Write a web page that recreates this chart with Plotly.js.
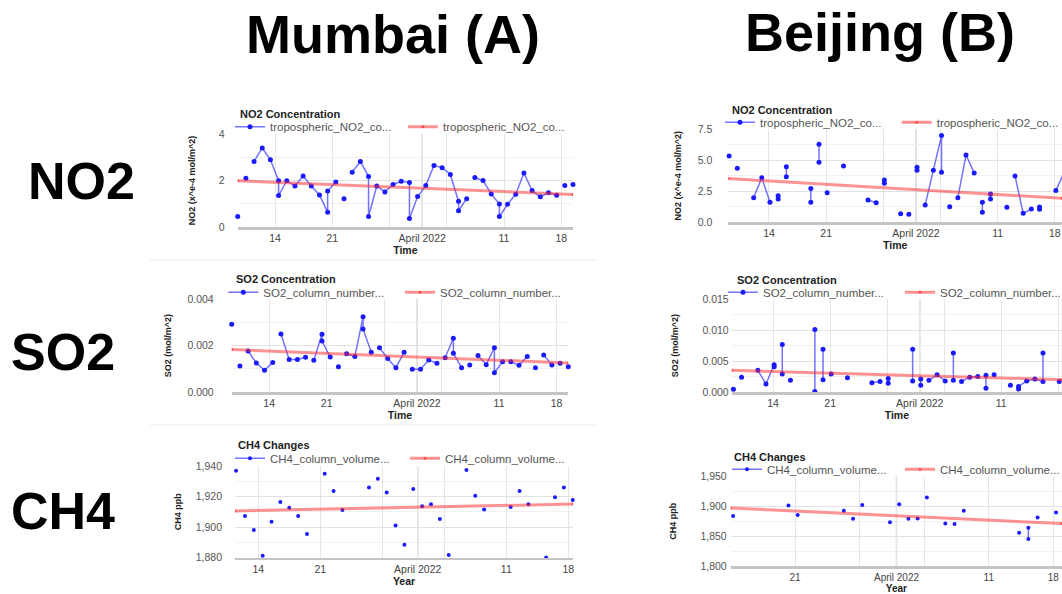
<!DOCTYPE html>
<html><head><meta charset="utf-8">
<script src="https://cdn.plot.ly/plotly-3.0.1.min.js"></script>
<style>html,body{margin:0;padding:0;background:#fff;overflow:hidden}#chart{width:1062px;height:594px}</style>
</head><body><div id="chart"></div>
<script>
// ---------------- DATA ----------------
// Mumbai NO2 (x 1e-4 mol/m^2), null = gap in line
const mumNO2Days = ['03-09','03-09','03-10','03-10','03-11','03-12','03-13','03-14','03-14','03-15','03-16','03-17','03-18','03-19','03-20','03-20','03-21','03-21','03-22','03-22','03-23','03-24','03-25','03-25','03-26','03-27','03-28','03-29','03-30','03-30','03-31','04-01','04-02','04-03','04-04','04-05','04-05','04-06','04-06','04-07','04-08','04-09','04-10','04-10','04-11','04-12','04-13','04-14','04-15','04-16','04-17','04-17','04-18','04-18','04-19'];
const mumNO2Vals = [0.45,null,2.10,null,2.82,3.40,2.89,1.99,1.35,1.99,1.76,2.19,1.76,1.38,0.63,1.55,1.94,null,1.21,null,2.36,2.82,2.17,0.45,1.76,1.51,1.83,1.97,1.91,0.37,1.31,1.78,2.65,2.55,2.26,1.11,0.70,1.22,null,2.13,2.00,1.42,0.99,0.45,0.98,1.41,2.32,1.57,1.30,1.47,1.37,null,1.78,null,1.83];
const mumNO2Trend = [1.99, 1.40];

// Mumbai SO2 (mol/m^2)
const mumSO2Days = ['03-09','03-09','03-10','03-10','03-11','03-12','03-13','03-14','03-14','03-15','03-16','03-17','03-18','03-18','03-19','03-20','03-20','03-21','03-21','03-22','03-22','03-23','03-24','03-25','03-25','03-26','03-26','03-27','03-28','03-29','03-30','03-30','03-31','04-01','04-02','04-03','04-03','04-04','04-05','04-05','04-06','04-06','04-07','04-07','04-08','04-09','04-10','04-10','04-11','04-11','04-12','04-13','04-14','04-14','04-15','04-15','04-16','04-17','04-17','04-18','04-18','04-19'];
const mumSO2Vals = [0.00292,null,0.00112,null,0.00177,0.00125,0.00094,0.00127,null,0.00250,0.00140,0.00140,0.00150,null,0.00137,0.00249,0.00220,0.00151,null,0.00109,null,0.00165,0.00153,0.00325,0.00272,0.00171,null,0.00191,0.00145,0.00105,0.00171,null,0.00098,0.00098,0.00138,0.00124,null,0.00148,0.00232,0.00167,0.00105,null,0.00117,null,0.00158,0.00118,0.00191,0.00083,0.00131,null,0.00131,0.00115,0.00153,null,0.00105,null,0.00160,0.00117,null,0.00124,null,0.00109];
const mumSO2Trend = [0.00183, 0.00125];

// Mumbai CH4 (ppb), separate points
const mumCH4Days = ['03-11','03-12','03-13','03-14','03-15','03-16','03-17','03-18','03-19','03-21','03-22','03-23','03-26','03-27','03-28','03-29','03-30','03-31','04-01','04-02','04-03','04-04','04-06','04-07','04-08','04-11','04-12','04-13','04-15','04-16','04-17','04-18'];
const mumCH4Vals = [1936.9,1907.3,1898.1,1881.3,1903.6,1916.4,1912.7,1907.3,1895.5,1935.0,1923.6,1911.2,1926.0,1931.7,1922.6,1901.0,1888.5,1925.0,1913.6,1914.9,1905.3,1881.8,1937.4,1920.6,1911.6,1913.2,1923.6,1914.9,1880.2,1919.5,1926.0,1917.8];
const mumCH4Trend = [1910.6, 1915.1];

// Beijing NO2 (x 1e-4 mol/m^2)
const bjNO2Days = ['03-09','03-09','03-10','03-10','03-12','03-13','03-14','03-14','03-15','03-15','03-15','03-16','03-16','03-16','03-19','03-19','03-19','03-20','03-20','03-20','03-21','03-21','03-23','03-23','03-26','03-27','03-27','03-28','03-28','03-28','03-30','03-30','03-31','03-31','04-01','04-01','04-01','04-02','04-03','04-04','04-04','04-04','04-05','04-05','04-06','04-07','04-08','04-08','04-09','04-09','04-09','04-10','04-10','04-10','04-12','04-12','04-13','04-14','04-15','04-15','04-16','04-16','04-16','04-18','04-19'];
const bjNO2Vals = [5.34,null,4.34,null,1.97,3.59,1.59,null,1.86,2.13,null,4.48,3.67,null,2.72,1.59,null,6.29,4.83,null,2.37,null,4.53,null,1.78,1.56,null,3.40,3.13,null,0.67,null,0.62,null,4.42,4.18,null,1.38,4.18,6.99,4.02,null,1.24,null,1.97,5.42,3.97,null,1.59,0.78,null,2.27,1.86,null,1.19,null,3.72,0.70,1.05,null,1.21,1.03,null,2.54,4.00];
const bjNO2Trend = [3.51, 1.92];

// Beijing SO2 (mol/m^2)
const bjSO2Days = ['03-09','03-09','03-10','03-10','03-12','03-13','03-14','03-14','03-14','03-15','03-15','03-15','03-16','03-16','03-19','03-19','03-19','03-20','03-20','03-20','03-21','03-21','03-23','03-23','03-26','03-27','03-27','03-28','03-28','03-28','03-31','03-31','03-31','04-01','04-01','04-01','04-02','04-03','04-04','04-04','04-05','04-05','04-05','04-06','04-07','04-08','04-08','04-09','04-09','04-09','04-10','04-10','04-12','04-12','04-13','04-13','04-14','04-15','04-16','04-16','04-16','04-18'];
const bjSO2Vals = [0.00043,null,0.0024,null,0.0035,0.0013,0.0044,0.0041,null,0.0077,0.0029,null,0.0019,null,0.0101,0.0001,null,0.0069,0.0020,null,0.0029,null,0.0023,null,0.0015,0.0017,null,0.0022,0.0014,null,0.0069,0.0018,null,0.0021,0.0011,null,0.0019,0.0028,0.0018,null,0.0063,0.0019,null,0.0017,0.0024,0.0025,null,0.0027,0.0006,null,0.0028,null,0.0011,null,0.0005,0.0009,0.0018,0.0021,0.0017,0.0063,null,0.0017];
const bjSO2Trend = [0.0035, 0.0020];

// Beijing CH4 (ppb)
const bjCH4Days = ['03-14','03-14','03-20','03-20','03-21','03-21','03-26','03-26','03-27','03-27','03-28','03-28','03-31','03-31','04-01','04-01','04-02','04-02','04-03','04-03','04-04','04-04','04-06','04-06','04-07','04-07','04-08','04-08','04-14','04-14','04-15','04-15','04-15','04-16','04-16','04-18'];
const bjCH4Vals = [1884.1,null,1901.8,null,1885.7,null,1892.7,null,1879.3,null,1902.3,null,1873.4,null,1903.9,null,1879.3,null,1879.8,null,1915.2,null,1871.2,null,1870.7,null,1892.7,null,1855.7,null,1864.3,1845.5,null,1881.4,null,1890.0];
const bjCH4Trend = [1897.5, 1871.2];

// ticks and labels
const xTickVals = ['2022-03-14','2022-03-21','2022-03-28','2022-04-01','2022-04-04','2022-04-11','2022-04-18'];
const xTickText = ['14','21','','April 2022','','11','18'];
const mumNO2YTicks = [0,2,4], mumNO2YText = ['0','2','4'];
const mumSO2YTicks = [0,0.002,0.004], mumSO2YText = ['0.000','0.002','0.004'];
const mumCH4YTicks = [1880,1900,1920,1940], mumCH4YText = ['1,880','1,900','1,920','1,940'];
const bjNO2YTicks = [0,2.5,5,7.5], bjNO2YText = ['0.0','2.5','5.0','7.5'];
const bjSO2YTicks = [0,0.005,0.010,0.015], bjSO2YText = ['0.000','0.005','0.010','0.015'];
const bjCH4YTicks = [1800,1850,1900,1950], bjCH4YText = ['1,800','1,850','1,900','1,950'];

// ---------------- LAYOUT ----------------
const W = 1062, H = 594;
const FONT = '"Liberation Sans", Arial, Helvetica, sans-serif';
const fx = p => p / W, fy = p => 1 - p / H;

function isolate(days, vals) { // markers only: break line between every point
  const d = [], v = [];
  days.forEach((x, i) => { if (i) { d.push(x); v.push(null); } d.push(x); v.push(vals[i]); });
  return [d, v];
}
const mumCH4 = isolate(mumCH4Days, mumCH4Vals);

// lg = [legend text x (blue item), legend y, legend text x (red item)]
const panels = [
  {n:1, days:mumNO2Days, vals:mumNO2Vals, trend:mumNO2Trend, time:'10:30', box:[237.7,573,134,227],
   xr:['2022-03-09 10:30','2022-04-19 10:30'], yr:[0,4], ytv:mumNO2YTicks, ytt:mumNO2YText, minor:1,
   ytitle:'NO2 (x^e-4 mol/m^2)', xtitle:'Time', title:'NO2 Concentration', tpos:[237.7,114],
   lg:[270,126.7,443], name:'tropospheric_NO2_co...', ms:5, lstand:12, tstand:21, xf:10.5},
  {n:2, days:mumSO2Days, vals:mumSO2Vals, trend:mumSO2Trend, time:'10:30', box:[231.7,568.3,299.3,392],
   xr:['2022-03-09 10:30','2022-04-19 10:30'], yr:[0,0.004], ytv:mumSO2YTicks, ytt:mumSO2YText, minor:0.001,
   ytitle:'SO2 (mol/m^2)', xtitle:'Time', title:'SO2 Concentration', tpos:[234,279],
   lg:[263.3,292.3,440], name:'SO2_column_number...', ms:5, lstand:17, tstand:14, xf:10.5},
  {n:3, days:mumCH4[0], vals:mumCH4[1], trend:mumCH4Trend, time:'12:00', box:[235,573,466,557.7],
   xr:['2022-03-11 09:00','2022-04-18 12:45'], yr:[1880,1940], ytv:mumCH4YTicks, ytt:mumCH4YText, minor:10,
   ytitle:'CH4 ppb', xtitle:'Year', title:'CH4 Changes', tpos:[236,445],
   lg:[270,458.3,445], name:'CH4_column_volume...', ms:4, lstand:12, tstand:12, xf:10.5},
  {n:4, days:bjNO2Days, vals:bjNO2Vals, trend:bjNO2Trend, time:'03:00', box:[728.3,1062,129.3,222],
   xr:['2022-03-09 00:30','2022-04-18 21:00'], yr:[0,7.5], ytv:bjNO2YTicks, ytt:bjNO2YText, minor:1.25,
   ytitle:'NO2 (x^e-4 mol/m^2)', xtitle:'Time', title:'NO2 Concentration', tpos:[730,110],
   lg:[760,122.3,936.7], name:'tropospheric_NO2_co...', ms:5, lstand:15, tstand:14, xf:10.5},
  {n:5, days:bjSO2Days, vals:bjSO2Vals, trend:bjSO2Trend, time:'03:00', box:[731.7,1062,299.3,392],
   xr:['2022-03-08 22:00','2022-04-18 11:00'], yr:[0,0.015], ytv:bjSO2YTicks, ytt:bjSO2YText, minor:0.0025,
   ytitle:'SO2 (mol/m^2)', xtitle:'Time', title:'SO2 Concentration', tpos:[735,280],
   lg:[763,292.3,940], name:'SO2_column_number...', ms:5, lstand:2, tstand:22, xf:10.5},
  {n:6, days:bjCH4Days, vals:bjCH4Vals, trend:bjCH4Trend, time:'07:00', box:[730.7,1062,476.7,566],
   xr:['2022-03-14 00:45','2022-04-18 22:30'], yr:[1800,1950], ytv:bjCH4YTicks, ytt:bjCH4YText, minor:25,
   ytitle:'CH4 ppb', xtitle:'Year', title:'CH4 Changes', tpos:[731.7,457.3],
   lg:[767,469.3,940], name:'CH4_column_volume...', ms:4, lstand:3, tstand:22, xf:10}
];

const data = [];
const layout = {
  width: W, height: H, autosize:false, margin: {l:0, r:0, t:0, b:0, autoexpand:false},
  paper_bgcolor:'#fff', plot_bgcolor:'#fff',
  font: {family: FONT, color:'#444'}, hovermode:false, showlegend:true,
  annotations: [], shapes: []
};

function legendCfg(textX, ypx) {
  return {
    x: fx(textX - 40), y: fy(ypx), xanchor:'left', yanchor:'middle',
    orientation:'h', bgcolor:'rgba(0,0,0,0)', borderwidth:0,
    font:{size:11.5, color:'#555', family:FONT}, itemclick:false, itemdoubleclick:false
  };
}

panels.forEach(p => {
  const s = p.n === 1 ? '' : String(p.n);
  const xk = 'x' + s, yk = 'y' + s;
  const lkA = p.n === 1 ? 'legend' : 'legend' + (2 * p.n - 1);
  const lkB = 'legend' + (2 * p.n);
  data.push({
    type:'scatter', mode:'lines+markers', name:p.name, xaxis:xk, yaxis:yk, legend:lkA,
    x: p.days.map(d => '2022-' + d + ' ' + p.time), y: p.vals, connectgaps:false, cliponaxis:false,
    line:{color:'rgba(40,40,255,0.65)', width:1.5}, marker:{color:'#1a1aff', size:p.ms}
  });
  data.push({
    type:'scatter', mode:'lines+markers', name:p.name, xaxis:xk, yaxis:yk, legend:lkB,
    x: p.xr, y: p.trend, line:{color:'rgba(255,40,40,0.5)', width:3}, marker:{color:'rgba(255,60,60,0.8)', size:3}
  });
  const [x0, x1, y0, y1] = p.box;
  layout['xaxis' + s] = {
    type:'date', domain:[fx(x0), fx(x1)], range:p.xr, anchor:yk, fixedrange:true,
    tickmode:'array', tickvals:xTickVals, ticktext:xTickText, ticks:'', ticklabelstandoff:0,
    tickfont:{size:p.xf, color:'#444'}, showgrid:true, gridcolor:'#e6e6e6', gridwidth:1,
    showline:true, linecolor:'#c4c4c4', linewidth:2.5, zeroline:false, automargin:false,
    title:{text:p.xtitle, font:{size:p.xf, color:'#222', weight:700}, standoff:0}
  };
  layout['yaxis' + s] = {
    domain:[fy(y1), fy(y0)], range:p.yr, anchor:xk, fixedrange:true, automargin:false,
    tickmode:'array', tickvals:p.ytv, ticktext:p.ytt, ticks:'', ticklabelstandoff:p.lstand,
    tickfont:{size:10.5, color:'#555'}, showgrid:true, gridcolor:'#e2e2e2', zeroline:false,
    minor:{dtick:p.minor, showgrid:true, gridcolor:'#f1f1f1', ticks:''},
    title:{text:p.ytitle, font:{size:9, color:'#222', weight:700}, standoff:p.tstand}
  };
  layout[lkA] = legendCfg(p.lg[0], p.lg[1]);
  layout[lkB] = legendCfg(p.lg[2], p.lg[1]);
  layout.annotations.push({
    xref:'paper', yref:'paper', x:fx(p.tpos[0]), y:fy(p.tpos[1]), xanchor:'left', yanchor:'middle',
    text:'<b>' + p.title + '</b>', showarrow:false, font:{size:11, color:'#222', family:FONT}
  });
  // month boundary (April 1) darker grid line
  layout.shapes.push({type:'line', xref:xk, yref:yk + ' domain', x0:'2022-04-01', x1:'2022-04-01', y0:0, y1:1,
    line:{color:'#d0d0d0', width:1.5}, layer:'below'});
});

// big headings
[['Mumbai (A)', 392.5, 34.5], ['Beijing (B)', 880, 31.7]].forEach(t => layout.annotations.push({
  xref:'paper', yref:'paper', x:fx(t[1]), y:fy(t[2]), xanchor:'center', yanchor:'middle',
  text:'<b>' + t[0] + '</b>', showarrow:false, font:{size:54, color:'#000', family:FONT}
}));
[['NO2', 81, 181], ['SO2', 63.3, 352.3], ['CH4', 63, 510.8]].forEach(t => layout.annotations.push({
  xref:'paper', yref:'paper', x:fx(t[1]), y:fy(t[2]), xanchor:'center', yanchor:'middle',
  text:'<b>' + t[0] + '</b>', showarrow:false, font:{size:52, color:'#000', family:FONT}
}));
// faint panel separators of the composite figure
[260, 425].forEach(yv => layout.shapes.push({type:'line', xref:'paper', yref:'paper',
  x0:fx(150), x1:fx(598), y0:fy(yv), y1:fy(yv), line:{color:'#ececec', width:1}}));

Plotly.newPlot('chart', data, layout, {staticPlot:true, displayModeBar:false});
</script></body></html>
